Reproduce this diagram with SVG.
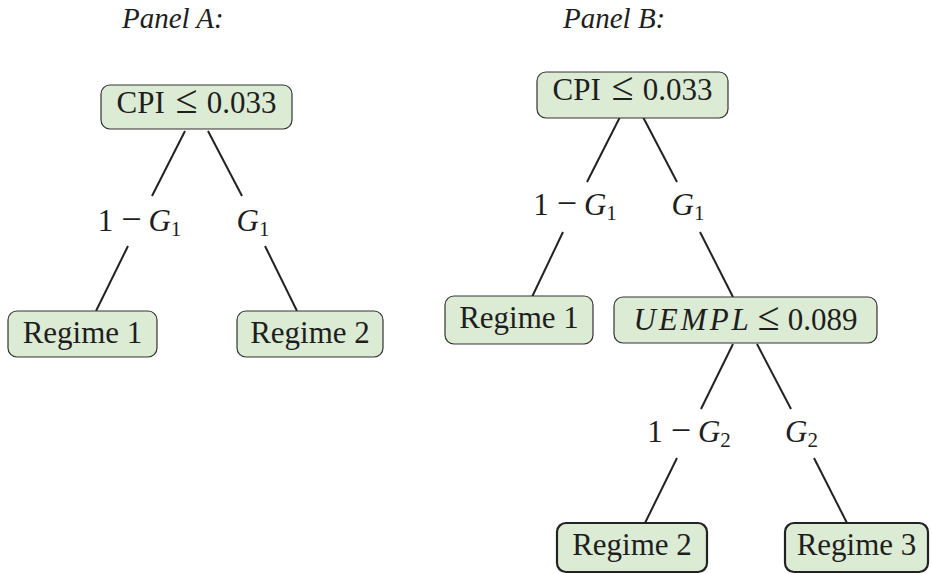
<svg xmlns="http://www.w3.org/2000/svg" width="932" height="574" viewBox="0 0 932 574">
<style>
.box{fill:#dcebd4;stroke:#333;stroke-width:1.2}
.thick{stroke-width:2.2;stroke:#222}
.t{font-family:"Liberation Serif","DejaVu Serif",serif;font-size:31px;fill:#1e1e1e;text-anchor:middle}
.i{font-style:italic}
.sub{font-size:21px}
.le{font-size:40px}
.mi{font-size:36px}
.ttl{font-family:"Liberation Serif","DejaVu Serif",serif;font-size:29px;font-style:italic;fill:#1e1e1e}
.edge{stroke:#222;stroke-width:2;fill:none}
</style>
<rect width="932" height="574" fill="#fff"/>
<text class="ttl" x="122" y="28">Panel A:</text>
<text class="ttl" x="563" y="28">Panel B:</text>
<g id="connectors">
<line class="edge" x1="185" y1="131" x2="152" y2="196"/>
<line class="edge" x1="208" y1="131" x2="242" y2="196"/>
<line class="edge" x1="128" y1="246" x2="96" y2="311"/>
<line class="edge" x1="265" y1="246" x2="297" y2="311"/>
<line class="edge" x1="620" y1="117" x2="587" y2="182"/>
<line class="edge" x1="643" y1="117" x2="677" y2="182"/>
<line class="edge" x1="563" y1="232" x2="532" y2="297"/>
<line class="edge" x1="700" y1="232" x2="733" y2="297"/>
<line class="edge" x1="733" y1="344" x2="701" y2="409"/>
<line class="edge" x1="757" y1="344" x2="791" y2="409"/>
<line class="edge" x1="677" y1="458" x2="645" y2="523"/>
<line class="edge" x1="814" y1="458" x2="847" y2="523"/>
</g>
<g id="labels">
<text class="t" x="139.5" y="231">1<tspan class="mi" dx="8">−</tspan><tspan class="i" dx="7">G</tspan><tspan class="sub" dy="5">1</tspan></text>
<text class="t" x="253" y="231"><tspan class="i">G</tspan><tspan class="sub" dy="5">1</tspan></text>
<text class="t" x="575" y="215">1<tspan class="mi" dx="8">−</tspan><tspan class="i" dx="7">G</tspan><tspan class="sub" dy="5">1</tspan></text>
<text class="t" x="688" y="215"><tspan class="i">G</tspan><tspan class="sub" dy="5">1</tspan></text>
<text class="t" x="689" y="442">1<tspan class="mi" dx="8">−</tspan><tspan class="i" dx="7">G</tspan><tspan class="sub" dy="5">2</tspan></text>
<text class="t" x="801.5" y="442"><tspan class="i">G</tspan><tspan class="sub" dy="5">2</tspan></text>
</g>
<g id="a-root">
<rect class="box" x="101" y="85" width="191" height="44" rx="9"/>
<text class="t" x="196.5" y="113">CPI<tspan class="le" dx="11">≤</tspan><tspan dx="9">0.033</tspan></text>
</g>
<g id="a-regime1">
<rect class="box" x="8" y="311" width="149" height="46" rx="9"/>
<text class="t" x="82.5" y="343">Regime 1</text>
</g>
<g id="a-regime2">
<rect class="box" x="237" y="311" width="146" height="46" rx="9"/>
<text class="t" x="310" y="343">Regime 2</text>
</g>
<g id="b-root">
<rect class="box" x="537" y="72" width="191" height="46" rx="9"/>
<text class="t" x="632.5" y="100">CPI<tspan class="le" dx="11">≤</tspan><tspan dx="9">0.033</tspan></text>
</g>
<g id="b-regime1">
<rect class="box" x="445" y="296" width="148" height="48" rx="9"/>
<text class="t" x="519" y="328">Regime 1</text>
</g>
<g id="b-uempl">
<rect class="box" x="614" y="297" width="263" height="46" rx="9"/>
<text class="t" x="745.5" y="330"><tspan class="i" letter-spacing="3">UEMPL</tspan><tspan class="le" dx="6">≤</tspan><tspan dx="8">0.089</tspan></text>
</g>
<g id="b-regime2">
<rect class="box thick" x="557" y="523" width="150" height="49" rx="9"/>
<text class="t" x="632" y="555">Regime 2</text>
</g>
<g id="b-regime3">
<rect class="box thick" x="785" y="523" width="143" height="49" rx="9"/>
<text class="t" x="856.5" y="555">Regime 3</text>
</g>
</svg>
